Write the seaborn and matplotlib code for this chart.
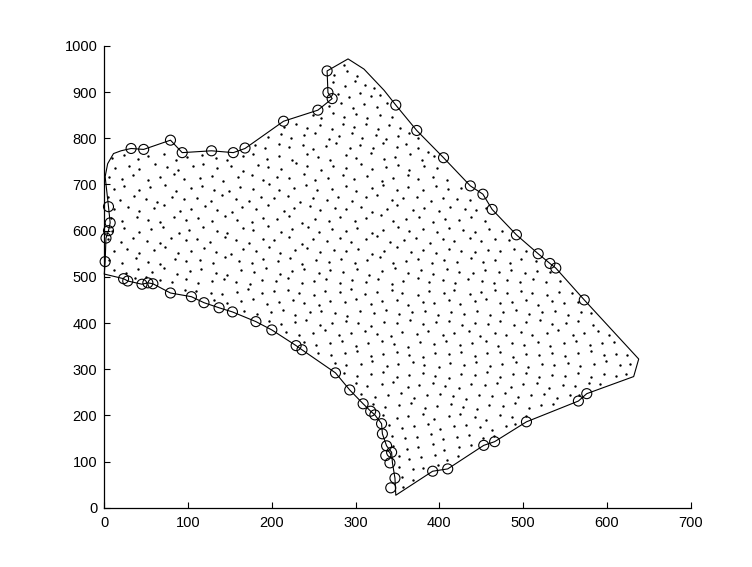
import numpy as np
import pandas as pd
import seaborn as sns
import matplotlib
matplotlib.use("Agg")
import matplotlib.pyplot as plt

# boundary polygon (closed)
outline_x = [0, 1, 2, 5, 7, 5, 1, 4, 11, 20, 32, 47, 79, 93, 128, 154, 168, 214, 255, 272, 267, 266, 291,
             310, 334, 348, 373, 405, 437, 452, 463, 492, 518, 532, 539, 573, 638, 632, 576, 566, 504, 466,
             453, 410, 392, 348, 347, 344, 343, 337, 332, 331, 323, 318, 309, 293, 276, 236, 229, 200, 181,
             153, 137, 119, 104, 79, 58, 52, 45, 28, 23, 0]
outline_y = [506, 533, 584, 600, 617, 652, 717, 745, 767, 773, 778, 776, 796, 769, 773, 769, 778, 837, 861, 886, 899, 946, 972,
             950, 904, 872, 817, 758, 697, 679, 646, 591, 550, 529, 519, 450, 322, 284, 247, 231, 186, 143,
             135, 84, 79, 27, 64, 97, 120, 134, 160, 182, 201, 209, 225, 255, 292, 342, 351, 385, 403,
             424, 433, 444, 457, 465, 485, 487, 484, 491, 496, 506]

# marked boundary nodes (circles)
marked_x = [32, 47, 79, 93, 128, 154, 168, 214, 255, 266, 267, 272,
            348, 373, 405, 437, 452, 463, 492, 518, 532, 539, 573,
            576, 566, 504, 466, 453, 410, 392,
            342, 347, 341, 336, 343, 337, 332, 331, 323, 318, 309, 293, 276, 236, 229, 200, 181,
            153, 137, 119, 104, 79, 58, 52, 45, 28, 23,
            1, 2, 5, 7, 5]
marked_y = [778, 776, 796, 769, 773, 769, 779, 837, 861, 946, 899, 886,
            872, 817, 758, 697, 679, 646, 591, 550, 529, 519, 450,
            247, 231, 186, 143, 135, 84, 79,
            43, 64, 97, 113, 120, 134, 160, 182, 201, 209, 225, 255, 292, 342, 351, 385, 403,
            424, 433, 444, 457, 465, 485, 487, 484, 491, 496,
            533, 584, 600, 617, 652]

# interior mesh nodes, row by row from top to bottom
node_rows = [
    ([286], [958]),
    ([274, 290, 302], [937, 945, 935]),
    ([273, 287, 299, 311, 322], [921, 913, 924, 915, 909]),
    ([279, 292, 305, 318, 329], [896, 889, 899, 891, 893]),
    ([268, 282, 297, 310, 325, 338], [869, 877, 866, 875, 868, 876]),
    ([249, 259, 273, 286, 301, 314, 329, 343], [850, 844, 855, 847, 853, 844, 851, 846]),
    ([214, 229, 242, 257, 272, 285, 298, 313, 327, 340, 353], [825, 831, 822, 829, 820, 832, 824, 830, 820, 828, 823]),
    ([196, 211, 223, 239, 252, 268, 280, 296, 308, 324, 336, 351, 364, 374],
     [803, 809, 800, 807, 811, 799, 806, 812, 801, 808, 798, 806, 811, 800]),
    ([180, 192, 208, 220, 237, 249, 265, 277, 293, 305, 321, 333, 349, 360, 375, 386],
     [785, 779, 788, 781, 786, 777, 784, 790, 780, 786, 778, 789, 782, 787, 779, 771]),
    ([9, 23, 40, 52, 71, 86, 99, 117, 133, 146, 165, 177, 194, 208, 224, 242, 255, 270, 289, 301, 318, 334, 347, 365, 379, 394],
     [758, 763, 755, 761, 766, 754, 760, 764, 757, 752, 762, 767, 756, 761, 753, 765, 759, 754, 763, 757, 768, 755, 760, 766, 753, 761]),
    ([13, 29, 42, 61, 75, 88, 106, 118, 135, 151, 165, 184, 196, 211, 229, 242, 259, 273, 289, 307, 319, 336, 351, 364, 382, 397],
     [736, 741, 733, 744, 738, 731, 740, 745, 735, 739, 730, 742, 737, 734, 746, 739, 732, 741, 736, 744, 733, 738, 743, 731, 739, 735]),
    ([6, 21, 34, 52, 66, 83, 95, 114, 129, 142, 160, 176, 189, 206, 220, 239, 251, 267, 285, 298, 314, 331, 345, 363, 375, 393, 409],
     [717, 712, 720, 709, 716, 723, 711, 714, 719, 708, 716, 721, 710, 717, 713, 722, 709, 715, 720, 711, 718, 707, 714, 721, 712, 717, 710]),
    ([11, 24, 42, 55, 72, 86, 104, 117, 131, 149, 162, 178, 197, 209, 226, 241, 254, 272, 288, 301, 319, 333, 350, 362, 381, 396, 410, 426],
     [690, 697, 687, 694, 699, 686, 692, 696, 689, 685, 695, 691, 700, 687, 693, 698, 688, 691, 697, 686, 693, 699, 689, 694, 687, 696, 690, 692]),
    ([5, 19, 35, 50, 63, 81, 95, 111, 127, 140, 157, 173, 187, 203, 219, 234, 249, 266, 279, 296, 312, 326, 343, 357, 373, 390, 404, 421, 437],
     [672, 666, 675, 669, 663, 674, 668, 671, 665, 677, 669, 664, 673, 670, 676, 662, 671, 667, 674, 665, 672, 678, 666, 670, 674, 664, 671, 668, 666]),
    ([12, 28, 41, 59, 71, 90, 103, 120, 134, 152, 164, 181, 196, 214, 226, 245, 258, 275, 289, 306, 319, 338, 350, 368, 382, 399, 413, 431, 444, 456],
     [646, 652, 643, 650, 655, 642, 648, 653, 645, 641, 651, 647, 656, 643, 649, 654, 644, 650, 646, 652, 641, 648, 655, 645, 650, 643, 652, 647, 644, 650]),
    ([8, 21, 39, 52, 66, 83, 98, 112, 129, 144, 158, 176, 189, 206, 221, 236, 252, 268, 281, 299, 313, 330, 345, 360, 376, 392, 407, 423, 438, 455],
     [627, 621, 630, 623, 618, 629, 624, 627, 620, 632, 624, 619, 628, 625, 631, 617, 626, 622, 629, 620, 627, 633, 621, 625, 629, 619, 626, 623, 630, 622]),
    ([9, 24, 41, 56, 70, 89, 101, 118, 134, 147, 166, 178, 196, 211, 224, 243, 256, 272, 289, 302, 320, 333, 351, 364, 381, 397, 412, 428, 443, 459, 475],
     [600, 606, 597, 604, 609, 596, 602, 607, 599, 595, 605, 601, 610, 597, 603, 608, 598, 604, 600, 606, 595, 602, 609, 599, 604, 597, 606, 601, 598, 604, 600]),
    ([5, 20, 34, 51, 66, 80, 97, 111, 126, 144, 157, 173, 190, 203, 221, 236, 249, 266, 281, 295, 312, 326, 341, 358, 372, 389, 404, 418, 436, 450, 466, 483],
     [582, 576, 585, 578, 573, 584, 579, 582, 575, 587, 579, 574, 583, 580, 586, 572, 581, 577, 584, 575, 582, 588, 576, 580, 584, 574, 581, 578, 585, 577, 581, 579]),
    ([12, 27, 41, 59, 72, 88, 104, 119, 133, 151, 165, 181, 197, 210, 228, 242, 257, 274, 288, 303, 320, 334, 349, 366, 380, 396, 412, 426, 443, 458, 473, 489, 503],
     [555, 561, 552, 559, 564, 551, 557, 562, 554, 550, 560, 556, 565, 552, 558, 563, 553, 559, 555, 561, 550, 557, 564, 554, 559, 552, 561, 556, 553, 559, 555, 560, 556]),
    ([6, 21, 38, 52, 67, 84, 97, 114, 130, 144, 161, 176, 190, 207, 222, 236, 253, 268, 282, 299, 314, 329, 345, 360, 375, 391, 406, 421, 438, 452, 467, 484, 498, 515],
     [537, 531, 540, 533, 528, 539, 534, 537, 530, 542, 534, 529, 538, 535, 541, 527, 536, 532, 539, 530, 537, 543, 531, 535, 539, 529, 536, 533, 540, 532, 536, 530, 538, 534]),
    ([11, 26, 40, 57, 71, 87, 102, 116, 133, 147, 163, 179, 193, 210, 224, 239, 256, 270, 285, 302, 316, 332, 347, 362, 378, 393, 409, 424, 440, 455, 471, 486, 502, 517, 532],
     [514, 508, 517, 510, 519, 507, 513, 516, 509, 505, 515, 511, 520, 507, 513, 518, 508, 514, 510, 516, 505, 512, 519, 509, 514, 507, 516, 511, 508, 514, 510, 515, 509, 513, 511]),
    ([37, 50, 67, 81, 98, 112, 128, 143, 157, 174, 188, 205, 219, 236, 250, 265, 281, 296, 312, 327, 343, 357, 374, 388, 404, 419, 434, 451, 465, 481, 496, 512, 527, 544],
     [498, 500, 493, 488, 495, 486, 492, 496, 489, 485, 494, 491, 497, 486, 492, 495, 487, 493, 489, 496, 485, 492, 498, 488, 493, 486, 495, 490, 487, 494, 489, 495, 488, 492]),
    ([96, 109, 127, 140, 158, 171, 188, 202, 219, 233, 250, 263, 281, 295, 311, 326, 343, 356, 374, 388, 405, 418, 436, 450, 466, 481, 498, 511, 529, 543, 558],
     [472, 470, 465, 462, 468, 473, 464, 469, 472, 466, 461, 470, 467, 473, 463, 468, 471, 465, 460, 469, 466, 472, 463, 468, 471, 464, 469, 466, 461, 468, 465]),
    ([131, 146, 163, 177, 194, 208, 225, 239, 256, 270, 287, 301, 318, 332, 349, 363, 380, 394, 411, 425, 442, 456, 473, 487, 504, 518, 535, 549, 565],
     [449, 443, 447, 452, 441, 446, 450, 444, 439, 448, 445, 451, 442, 447, 450, 440, 446, 443, 449, 441, 447, 452, 443, 446, 450, 440, 447, 444, 446]),
    ([167, 182, 199, 213, 228, 245, 259, 276, 290, 305, 322, 336, 352, 367, 383, 398, 414, 429, 445, 461, 476, 492, 507, 523, 538, 554, 569, 581],
     [426, 420, 424, 429, 418, 423, 427, 421, 416, 425, 422, 428, 419, 424, 427, 417, 423, 420, 426, 418, 424, 429, 420, 423, 427, 417, 424, 421]),
    ([197, 211, 228, 241, 258, 272, 289, 303, 318, 334, 349, 365, 380, 396, 411, 427, 442, 458, 473, 489, 504, 520, 535, 551, 566, 583],
     [404, 398, 402, 407, 396, 401, 405, 399, 394, 403, 400, 406, 397, 402, 405, 395, 401, 398, 404, 396, 402, 407, 398, 401, 405, 395]),
    ([217, 233, 249, 263, 280, 294, 311, 325, 342, 356, 373, 387, 404, 418, 435, 449, 466, 480, 497, 511, 528, 542, 559, 573, 590, 603],
     [381, 375, 379, 384, 373, 378, 382, 376, 371, 380, 377, 383, 374, 379, 382, 372, 378, 375, 381, 373, 379, 384, 375, 378, 382, 374]),
    ([239, 253, 270, 284, 301, 315, 332, 346, 363, 377, 394, 408, 425, 439, 456, 470, 487, 501, 518, 532, 549, 563, 580, 594, 609],
     [359, 353, 357, 362, 351, 356, 360, 354, 349, 358, 355, 361, 352, 357, 360, 350, 356, 353, 359, 351, 357, 362, 353, 356, 358]),
    ([255, 271, 287, 302, 318, 333, 349, 364, 380, 395, 411, 426, 442, 457, 473, 488, 504, 519, 535, 550, 566, 581, 597, 611, 624],
     [336, 330, 334, 339, 328, 333, 337, 331, 326, 335, 332, 338, 329, 334, 337, 327, 333, 330, 336, 328, 334, 339, 330, 333, 331]),
    ([275, 289, 306, 320, 337, 351, 368, 382, 399, 413, 430, 444, 461, 475, 492, 506, 523, 537, 554, 568, 585, 599, 616, 628],
     [314, 308, 312, 317, 306, 311, 315, 309, 304, 313, 310, 316, 307, 312, 315, 305, 311, 308, 314, 306, 312, 317, 308, 311]),
    ([286, 302, 318, 333, 349, 364, 380, 395, 411, 426, 442, 457, 473, 488, 504, 519, 535, 550, 566, 581, 597, 611, 623],
     [291, 285, 289, 294, 283, 288, 292, 286, 281, 290, 287, 293, 284, 289, 292, 282, 288, 285, 291, 283, 289, 286, 290]),
    ([300, 314, 331, 345, 362, 376, 393, 407, 424, 438, 455, 469, 486, 500, 517, 531, 548, 562, 579, 592],
     [269, 263, 267, 272, 261, 266, 270, 264, 259, 268, 265, 271, 262, 267, 270, 260, 266, 263, 269, 268]),
    ([307, 323, 339, 354, 370, 385, 401, 416, 432, 447, 463, 478, 494, 509, 525, 540, 556, 567],
     [246, 240, 244, 249, 238, 243, 247, 241, 236, 245, 242, 248, 239, 244, 247, 237, 243, 245]),
    ([321, 335, 352, 366, 383, 397, 414, 428, 445, 459, 476, 490, 507, 521, 536],
     [224, 218, 222, 227, 216, 221, 225, 219, 214, 223, 220, 226, 217, 222, 225]),
    ([333, 349, 363, 380, 394, 411, 425, 442, 456, 473, 487, 503],
     [201, 195, 199, 204, 193, 198, 202, 196, 191, 200, 197, 199]),
    ([340, 356, 370, 387, 401, 418, 432, 449, 463, 480, 490],
     [179, 173, 177, 182, 171, 176, 180, 174, 169, 178, 181]),
    ([343, 359, 373, 390, 404, 421, 435, 452, 465], [156, 150, 154, 159, 148, 153, 157, 151, 155]),
    ([345, 361, 375, 392, 406, 423, 438], [134, 128, 132, 137, 126, 131, 135]),
    ([352, 364, 378, 395, 409, 422], [111, 105, 109, 114, 103, 112]),
    ([352, 368, 381, 398], [89, 83, 87, 92]),
    ([355, 368], [66, 60]),
    ([357], [44]),
]

outline = pd.DataFrame({"x": outline_x, "y": outline_y})
marked = pd.DataFrame({"x": marked_x, "y": marked_y})
nodes = pd.DataFrame(
    [(x, y) for xs, ys in node_rows for x, y in zip(xs, ys)], columns=["x", "y"]
)

sns.set_style("ticks", {"xtick.direction": "in", "ytick.direction": "in"})
plt.rcParams["font.family"] = ["Liberation Sans", "DejaVu Sans"]

fig = plt.figure(figsize=(7.52, 5.67), dpi=100)
ax = fig.add_axes([0.1387, 0.1046, 0.7797, 0.8143])

sns.scatterplot(data=nodes, x="x", y="y", s=3, color="black", linewidth=0, ax=ax)
sns.lineplot(data=outline, x="x", y="y", sort=False, estimator=None, color="black",
             linewidth=0.8, ax=ax, clip_on=False)
sns.scatterplot(data=marked, x="x", y="y", s=52, marker="o", facecolors="none",
                edgecolor="black", linewidth=0.8, ax=ax, clip_on=False, zorder=3)

ax.set_xlim(0, 700)
ax.set_ylim(0, 1000)
ax.set_xticks(range(0, 701, 100))
ax.set_yticks(range(0, 1001, 100))
ax.set_xlabel("")
ax.set_ylabel("")
ax.tick_params(axis="both", direction="in", length=4.5, width=0.8, labelsize=10.5,
               colors="black")
ax.tick_params(axis="x", pad=6)
ax.tick_params(axis="y", pad=5)
sns.despine(ax=ax)
for s in ["left", "bottom"]:
    ax.spines[s].set_linewidth(0.9)
    ax.spines[s].set_color("black")

fig.savefig("out.png", dpi=100)
